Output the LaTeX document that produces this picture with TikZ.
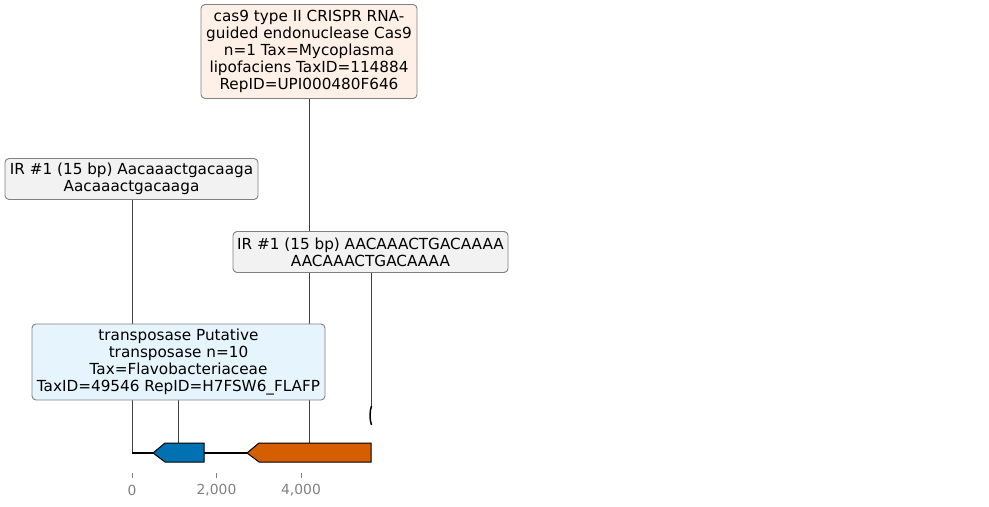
\documentclass[tikz,border=0pt]{standalone}
\usepackage{fontspec}
\setmainfont{DejaVu Sans}
\begin{document}
\begin{tikzpicture}[x=1bp,y=-1bp,
  lbl/.style={draw=black!50, line width=0.9bp, rounded corners=4bp, inner sep=0pt, align=center,
    font=\fontsize{15.3}{17}\selectfont},
  lead/.style={draw=black!75, line width=0.7bp},
  gene/.style={draw=black, line width=1bp},
  tick/.style={text=black!50, font=\fontsize{13.9}{16.8}\selectfont}]
\useasboundingbox (0,0) rectangle (989,507);
\definecolor{casfill}{HTML}{FEF0E6}
\definecolor{irfill}{HTML}{F2F2F2}
\definecolor{trfill}{HTML}{E6F5FD}
\definecolor{gblue}{HTML}{0072B2}
\definecolor{gorange}{HTML}{D55E00}
% coordinates for leader endpoints
\coordinate (irLend) at (132,453);
\coordinate (irRend) at (371,406);
\coordinate (trend) at (178,443);
\coordinate (casend) at (309,443);
% leader lines (behind boxes)
\coordinate (irLtop) at (132,199);
\coordinate (irRtop) at (371,272);
\coordinate (trtop) at (178,400);
\coordinate (castop) at (309,98);
\draw[lead] (irLtop) -- (irLend);
\draw[lead] (irRtop) -- (irRend);
\draw[lead] (trtop) -- (trend);
\draw[lead] (castop) -- (casend);
% axis line
\coordinate (ax0) at (132,453);
\coordinate (ax1) at (371,453);
\draw[black, line width=1.6bp] (ax0) -- (ax1);
% genes
\draw[gene, fill=gblue] (204,443) -- (165,443) -- (153,453) -- (165,462) -- (204,462) -- cycle;
\draw[gene, fill=gorange] (371,443) -- (259,443) -- (247,453) -- (259,462) -- (371,462) -- cycle;
% small IR feature
\draw[black, line width=1.5bp] (371.5,406) .. controls (369.5,412) and (369.5,419) .. (371.5,425);
% labels
\node[lbl, fill=casfill, minimum width=216bp, minimum height=94bp] (cas) at (309,51.5)
  {cas9 type II CRISPR RNA-\\guided endonuclease Cas9\\n=1 Tax=Mycoplasma\\lipofaciens TaxID=114884\\RepID=UPI000480F646};
\node[lbl, fill=irfill, minimum width=253bp, minimum height=41bp] (irL) at (131.5,179)
  {IR \#1 (15 bp) Aacaaactgacaaga\\Aacaaactgacaaga};
\node[lbl, fill=irfill, minimum width=275bp, minimum height=41bp] (irR) at (370.5,252)
  {IR \#1 (15 bp) AACAAACTGACAAAA\\AACAAACTGACAAAA};
\node[lbl, fill=trfill, minimum width=293bp, minimum height=76bp] (tr) at (178.5,362)
  {transposase Putative\\transposase n=10\\Tax=Flavobacteriaceae\\TaxID=49546 RepID=H7FSW6\_FLAFP};
% axis ticks
\foreach \xx/\lab [count=\i] in {132/0, 216.5/{2,000}, 301/{4,000}} {
  \coordinate (t\i a) at (\xx,473);
  \coordinate (t\i b) at (\xx,478);
  \draw[black!50, line width=0.8bp] (t\i a) -- (t\i b);
  \node[tick] (tl\i) at (\xx,490.5) {\lab};
}
\end{tikzpicture}
\end{document}
